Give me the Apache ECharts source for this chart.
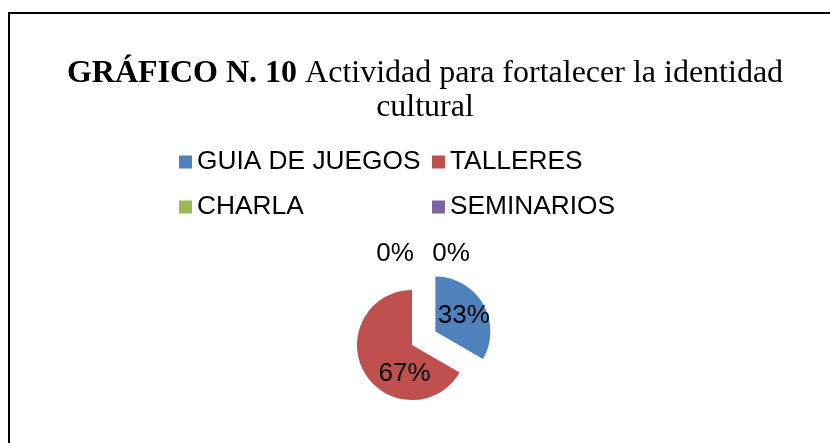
<!DOCTYPE html>
<html lang="es">
<head>
    <meta charset="UTF-8">
    <script src="https://cdn.jsdelivr.net/npm/echarts@6/dist/echarts.min.js"></script>
    <title>Gráfico 10</title>
    <style>
        html, body { margin: 0; padding: 0; background: #ffffff; overflow: hidden; }
        #chart { width: 830px; height: 443px; }
    </style>
</head>
<body>
<div id="chart"></div>

<script>
    // data
    const categories = ['GUIA DE JUEGOS', 'TALLERES', 'CHARLA', 'SEMINARIOS'];
    const values = [1, 2, 0, 0];
    const colors = ['#4F81BD', '#C0504D', '#9BBB59', '#8064A2'];

    // label nudges so the percentages sit where Excel put them
    const labelShift = [[2, 0], [19, 14], [-17, -61], [39, -61]];

    const chart = echarts.init(document.getElementById('chart'));

    const option = {
        animation: false,
        color: colors,
        title: {
            text: '{b|GRÁFICO N. 10} Actividad para fortalecer la identidad\ncultural',
            left: 425,
            top: 57,
            padding: 0,
            textAlign: 'center',
            textStyle: {
                fontFamily: 'Liberation Serif',
                fontSize: 32,
                fontWeight: 'normal',
                color: '#000000',
                lineHeight: 34,
                rich: {
                    b: {
                        fontFamily: 'Liberation Serif',
                        fontSize: 32,
                        fontWeight: 'bold',
                        color: '#000000',
                        lineHeight: 34,
                    },
                },
            },
        },
        legend: [
            {
                data: [categories[0], categories[2]],
                orient: 'vertical',
                left: 179,
                top: 148,
                padding: 0,
                itemWidth: 13,
                itemHeight: 13,
                itemGap: 17,
                icon: 'rect',
                selectedMode: false,
                textStyle: { fontFamily: 'Liberation Sans', fontSize: 26.3, color: '#000000', lineHeight: 28 },
            },
            {
                data: [categories[1], categories[3]],
                orient: 'vertical',
                left: 432,
                top: 148,
                padding: 0,
                itemWidth: 13,
                itemHeight: 13,
                itemGap: 17,
                icon: 'rect',
                selectedMode: false,
                textStyle: { fontFamily: 'Liberation Sans', fontSize: 26.3, color: '#000000', lineHeight: 28 },
            },
        ],
        graphic: [{
            type: 'rect',
            shape: { x: 9, y: 13, width: 900, height: 600 },
            style: { fill: 'none', stroke: '#000000', lineWidth: 2 },
            silent: true,
        }],
        series: [{
            type: 'pie',
            center: [412, 345],
            radius: [0, 55],
            startAngle: 90,
            clockwise: true,
            percentPrecision: 0,
            selectedMode: 'single',
            selectedOffset: 27,
            emphasis: { disabled: true },
            itemStyle: { borderWidth: 0 },
            label: {
                show: true,
                position: 'inside',
                formatter: '{d}%',
                fontFamily: 'Liberation Sans',
                fontSize: 26,
                color: '#000000',
            },
            labelLine: { show: false },
            labelLayout: function (params) {
                const s = labelShift[params.dataIndex];
                return { dx: s[0], dy: s[1] };
            },
            data: categories.map((name, i) => ({
                name: name,
                value: values[i],
                selected: i === 0,
            })),
        }],
    };

    chart.setOption(option);
</script>

</body>
</html>
